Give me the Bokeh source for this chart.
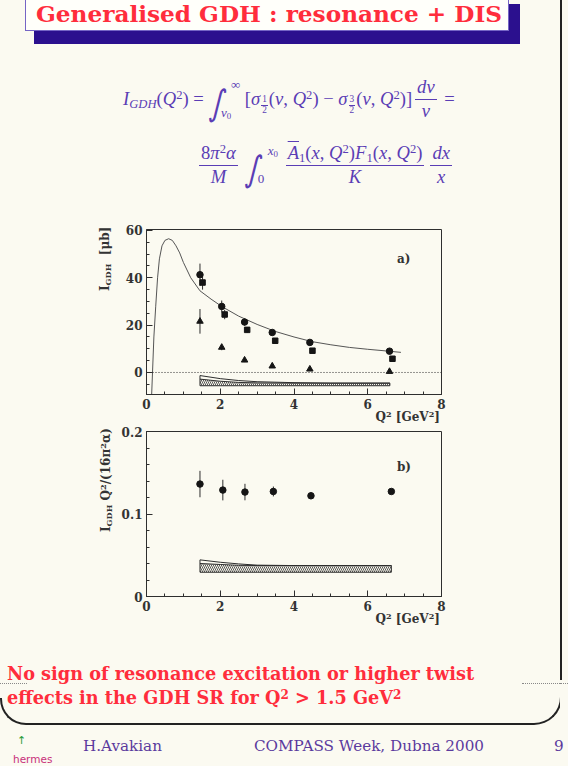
import math
from bokeh.plotting import figure
from bokeh.models import Div, Label, Span, Range1d, FixedTicker, CustomJSTickFormatter
from bokeh.layouts import column, row
from bokeh.embed import file_html
from bokeh.resources import INLINE

# ---------------- data ----------------
x_ticks = [0, 2, 4, 6, 8]
x_minor_ticks = [0, 0.5, 1, 1.5, 2, 2.5, 3, 3.5, 4, 4.5, 5, 5.5, 6, 6.5, 7, 7.5, 8]
a_y_ticks = [0, 20, 40, 60]
a_y_minor = [-5, 0, 5, 10, 15, 20, 25, 30, 35, 40, 45, 50, 55, 60]
b_y_ticks = [0, 0.1, 0.2]
b_y_minor = [0, 0.02, 0.04, 0.06, 0.08, 0.1, 0.12, 0.14, 0.16, 0.18, 0.2]

# panel a) : I_GDH [mub]
q2_circ = [1.45, 2.04, 2.66, 3.41, 4.43, 6.59]
gdh_circ = [41.3, 27.9, 21.3, 16.9, 12.7, 9.0]
gdh_circ_err = [4.7, 2.5, 1.5, 1.0, 0.8, 0.6]
q2_sq = [1.52, 2.12, 2.73, 3.49, 4.50, 6.67]
gdh_sq = [38.0, 24.5, 18.0, 13.4, 9.2, 5.8]
gdh_sq_err = [3.0, 2.0, 1.2, 0.8, 0.6, 0.5]
q2_tri = [1.45, 2.04, 2.66, 3.41, 4.43, 6.59]
gdh_tri = [21.6, 10.6, 5.2, 2.7, 1.4, 0.4]
gdh_tri_err = [5.2, 1.2, 0.8, 0.6, 0.5, 0.5]
curve_q2 = [0.14, 0.2, 0.25, 0.3, 0.35, 0.42, 0.5, 0.6, 0.7, 0.8, 0.9, 1.0, 1.2, 1.45,
            1.75, 2.05, 2.5, 3.0, 3.5, 4.0, 4.5, 5.0, 5.5, 6.0, 6.5, 6.9]
curve_gdh = [-9.3, 15.0, 28.0, 40.0, 48.0, 53.5, 55.8, 56.5, 55.8, 53.5, 50.5, 46.5, 40.0, 34.5,
             31.0, 27.8, 23.8, 20.3, 17.3, 15.0, 13.0, 11.7, 10.6, 9.8, 9.1, 8.5]
syst_a_q2 = [1.45, 2.0, 2.5, 3.0, 4.0, 5.0, 6.6]
syst_a_total = [-1.3, -2.6, -3.4, -3.9, -4.3, -4.5, -4.5]
syst_a_hatch = [-2.8, -3.7, -4.2, -4.4, -4.5, -4.5, -4.5]
syst_a_base = [-5.6, -5.6, -5.6, -5.6, -5.6, -5.6, -5.6]

# panel b) : I_GDH Q^2/(16 pi^2 alpha)
q2_b = [1.45, 2.07, 2.67, 3.44, 4.46, 6.64]
gdh_b = [0.1363, 0.129, 0.1266, 0.1273, 0.1221, 0.1273]
gdh_b_err = [0.016, 0.0125, 0.010, 0.006, 0.004, 0.003]
syst_b_q2 = [1.45, 2.0, 2.5, 3.0, 4.0, 5.0, 6.64]
syst_b_total = [0.0444, 0.0415, 0.0395, 0.038, 0.0375, 0.0375, 0.0375]
syst_b_hatch = [0.0400, 0.0388, 0.0378, 0.0375, 0.0375, 0.0375, 0.0375]
syst_b_base = [0.0294, 0.0294, 0.0294, 0.0294, 0.0294, 0.0294, 0.0294]

# ---------------- style ----------------
BG = "#fbfaf1"
AX = "#2e2e2e"
FORM = "#5a3db5"
RED = "#ff2d3c"
NAVY = "#2b108e"
FOOT = "#5b3a9e"
SERIF = "DejaVu Serif"
LINE = "#222222"


def panel(width, height, left, top, bottom, y_start, y_end, yticks, yminor):
    p = figure(width=width, height=height, x_range=Range1d(0, 8), y_range=Range1d(y_start, y_end),
               output_backend="svg", toolbar_location=None,
               min_border_left=left, min_border_right=width - left - 295, min_border_top=top,
               min_border_bottom=bottom, background_fill_color=BG, border_fill_color=BG,
               outline_line_color=AX)
    p.grid.visible = False
    for ax, t, m in ((p.xaxis[0], x_ticks, x_minor_ticks), (p.yaxis[0], yticks, yminor)):
        ax.ticker = FixedTicker(ticks=t, minor_ticks=m)
        ax.major_tick_in = 6
        ax.major_tick_out = 0
        ax.minor_tick_in = 3
        ax.minor_tick_out = 0
        ax.axis_line_color = AX
        ax.major_tick_line_color = AX
        ax.minor_tick_line_color = AX
        ax.major_label_text_font = SERIF
        ax.major_label_text_font_style = "bold"
        ax.major_label_text_font_size = "12px"
        ax.major_label_text_color = "#333333"
        ax.major_label_standoff = 4
    p.yaxis[0].formatter = CustomJSTickFormatter(
        code="return tick === 0 ? '0' : (Math.abs(tick) < 1 ? tick.toFixed(1) : tick.toFixed(0));")
    return p


def errbars(p, xs, ys, es):
    p.segment(x0=xs, x1=xs, y0=[y - e for y, e in zip(ys, es)], y1=[y + e for y, e in zip(ys, es)],
              line_color=AX, line_width=1)


def band(p, xs, total, hatch, base):
    p.varea(x=xs, y1=base, y2=hatch, fill_color=BG, hatch_pattern="\\", hatch_color=AX,
            hatch_scale=4, hatch_weight=0.8)
    p.line(xs, hatch, line_color=AX, line_width=1)
    p.patch(xs + xs[::-1], total + base[::-1], fill_color=None, line_color=AX, line_width=1)


def lab(p, x, y, text, size):
    p.add_layout(Label(x=x, y=y, text=text, text_align="left", text_baseline="alphabetic",
                       text_font=SERIF, text_font_style="bold", text_font_size=f"{size}px",
                       text_color="#333333"))


# ---------------- html helpers ----------------
def put(ox, oy, x, base, html, fs, fam="Liberation Serif", weight="normal", style="normal",
        color=FORM, right=None, extra=""):
    L = 60
    k = 0.346 if fam.startswith("DejaVu") else 0.3375
    top = base - oy - L / 2 - k * fs
    pos = f"left:{x - ox:.1f}px;" if right is None else f"right:{right:.1f}px;"
    return (f'<div style="position:absolute;{pos}top:{top:.1f}px;font-family:\'{fam}\';'
            f'font-size:{fs}px;line-height:{L}px;font-weight:{weight};font-style:{style};'
            f'color:{color};white-space:nowrap;{extra}">{html}</div>')


def rot(ox, oy, xb, ys, html, fs):
    b = 30 + 0.346 * fs
    return (f'<div style="position:absolute;left:{xb - ox - b:.1f}px;top:{ys - oy:.1f}px;'
            f'transform-origin:0 0;transform:rotate(-90deg);font-family:\'{SERIF}\';font-size:{fs}px;'
            f'line-height:60px;font-weight:bold;color:#333333;white-space:nowrap">{html}</div>')


def sup(t):
    return f'<span style="font-size:0.68em;line-height:0;vertical-align:0.45em;font-style:normal">{t}</span>'


def sub(t):
    return f'<span style="font-size:0.68em;line-height:0;vertical-align:-0.25em">{t}</span>'


def subfrac(a, b):
    return ('<span style="display:inline-block;font-size:0.5em;line-height:1;vertical-align:-0.85em;'
            'text-align:center;font-style:normal;margin:0 1px">'
            f'<span style="display:block;border-bottom:1px solid currentColor;padding:0 1px">{a}</span>'
            f'<span style="display:block">{b}</span></span>')


def frac(num, den, fs, axis=5.2, pad=2):
    d = pad + 0.8375 * fs - axis
    return (f'<span style="display:inline-block;line-height:1;vertical-align:-{d:.1f}px;text-align:center;margin:0 3px">'
            f'<span style="display:block;border-bottom:1px solid currentColor;padding:0 2px {pad}px">{num}</span>'
            f'<span style="display:block;padding-top:{pad}px">{den}</span></span>')


def integral(lo, hi):
    glyph = ('<span style="font-family:\'DejaVu Sans\';font-style:normal;font-size:1.9em;line-height:0;'
             'vertical-align:-0.28em;display:inline-block;transform:skewX(-12deg) scaleX(0.8)">∫</span>')
    lim = ('<span style="display:inline-block;line-height:1;font-size:0.7em;vertical-align:-0.95em">'
           f'<span style="display:block;padding-left:4px">{hi}</span>'
           f'<span style="display:block;margin-top:1.15em;margin-left:-6px">{lo}</span></span>')
    return glyph + lim


def wrap(w, h, parts):
    return (f'<div style="position:relative;width:{w}px;height:{h}px;background:{BG}">'
            + "".join(parts) + "</div>")


def i_(t):
    return f"<i>{t}</i>"


# ---------------- header (title + formula) ----------------
FS = 18.6
line1 = (i_("I") + sub(i_("GDH")) + "(" + i_("Q") + sup("2") + ") = "
         + integral(i_("ν") + sub("0"), "∞") + "&nbsp;["
         + i_("σ") + subfrac("1", "2") + "(" + i_("ν") + ", " + i_("Q") + sup("2") + ") − "
         + i_("σ") + subfrac("3", "2") + "(" + i_("ν") + ", " + i_("Q") + sup("2") + ")]"
         + frac(i_("dν"), i_("ν"), FS) + " =")
line2 = (frac("8" + i_("π") + sup("2") + i_("α"), i_("M"), FS) + " "
         + integral("0", i_("x") + sub("0")) + "&nbsp;"
         + frac('<span style="text-decoration:overline">' + i_("A") + '</span>' + sub("1") + "("
                + i_("x") + ", " + i_("Q") + sup("2") + ")" + i_("F") + sub("1") + "(" + i_("x")
                + ", " + i_("Q") + sup("2") + ")", i_("K"), FS)
         + frac(i_("dx"), i_("x"), FS))

hdr = [
    f'<div style="position:absolute;left:34px;top:4px;width:486px;height:39.5px;background:{NAVY}"></div>',
    '<div style="position:absolute;left:25px;top:-3px;width:484px;height:34px;background:#fffffa;border:1px solid #7565c5"></div>',
    put(0, 0, 36, 21.7, "Generalised GDH : resonance + DIS", 23.2, fam="DejaVu Serif", weight="bold", color=RED),
    put(0, 0, 123, 105, line1, FS),
    put(0, 0, 0, 171, line2, FS, right=560 - 455),
]
header = Div(text=wrap(560, 217, hdr), width=560, height=217, margin=0)

# ---------------- panels ----------------
pa = panel(442, 196, 28, 12, 19, -9.3, 60.4, a_y_ticks, a_y_minor)
pa.add_layout(Span(location=0, dimension="width", line_color=AX, line_dash="1 2", line_width=1))
band(pa, syst_a_q2, syst_a_total, syst_a_hatch, syst_a_base)
pa.line(curve_q2, curve_gdh, line_color="#555555", line_width=1)
errbars(pa, q2_circ, gdh_circ, gdh_circ_err)
errbars(pa, q2_sq, gdh_sq, gdh_sq_err)
errbars(pa, q2_tri, gdh_tri, gdh_tri_err)
pa.scatter(q2_circ, gdh_circ, marker="circle", size=6.5, color="#151515")
pa.scatter(q2_sq, gdh_sq, marker="square", size=5.5, color="#151515")
pa.scatter(q2_tri, gdh_tri, marker="triangle", size=6.5, color="#151515")
lab(pa, 6.79, 48.1, "a)", 12)

pb = panel(442, 188, 28, 5, 18, 0, 0.2, b_y_ticks, b_y_minor)
band(pb, syst_b_q2, syst_b_total, syst_b_hatch, syst_b_base)
errbars(pb, q2_b, gdh_b, gdh_b_err)
pb.scatter(q2_b, gdh_b, marker="circle", size=6.5, color="#151515")
lab(pb, 6.79, 0.1564, "b)", 12)

ya_label = "I" + sub("GDH") + "&nbsp;&nbsp;[μb]"
yb_label = "I" + sub("GDH") + "&nbsp;Q" + sup("2") + "/(16π" + sup("2") + "α)"
x_label = "Q" + sup("2") + " [GeV" + sup("2") + "]"

ya_div = Div(text=wrap(118, 196, [rot(0, 217, 109.5, 290.7, ya_label, 12)]), width=118, height=196, margin=0)
yb_div = Div(text=wrap(118, 188, [rot(0, 426, 110, 531.7, yb_label, 12)]), width=118, height=188, margin=0)
xa_div = Div(text=wrap(560, 13, [put(0, 413, 0, 421.5, x_label, 12, fam="DejaVu Serif", weight="bold",
                                     color="#333333", right=560 - 440)]), width=560, height=13, margin=0)
xb_div = Div(text=wrap(560, 22, [put(0, 614, 0, 623, x_label, 12, fam="DejaVu Serif", weight="bold",
                                     color="#333333", right=560 - 440)]), width=560, height=22, margin=0)

# ---------------- conclusion text + frame ----------------
red_line1 = "No sign of resonance excitation or higher twist"
red_line2 = "effects in the GDH SR for Q" + sup("2") + " &gt; 1.5 GeV" + sup("2")
txt = [
    put(0, 636, 7, 680.5, red_line1, 17.7, fam="DejaVu Serif", weight="bold", color=RED),
    put(0, 636, 7, 704, red_line2, 17.7, fam="DejaVu Serif", weight="bold", color=RED),
    '<div style="position:absolute;left:0px;top:47px;width:27px;border-top:1px dotted #888"></div>',
    '<div style="position:absolute;left:522px;top:47px;width:38px;border-top:1px dotted #888"></div>',
    f'<div style="position:absolute;left:40px;top:40px;width:522px;height:49px;box-sizing:border-box;'
    f'border-right:2px solid {LINE};border-bottom:2px solid {LINE};border-bottom-right-radius:28px"></div>',
    f'<div style="position:absolute;left:0px;top:62px;width:60px;height:27px;box-sizing:border-box;'
    f'border-left:2px solid {LINE};border-bottom:2px solid {LINE};border-bottom-left-radius:26px"></div>',
]
text_div = Div(text=wrap(560, 90, txt), width=560, height=90, margin=0)

vline = Div(text=wrap(8, 726, [f'<div style="position:absolute;left:0px;top:0px;width:2px;height:680px;background:{LINE}"></div>',
                               '<div style="position:absolute;left:0px;top:683px;width:8px;border-top:1px dotted #888"></div>']),
            width=8, height=726, margin=0)

# ---------------- footer ----------------
ft = [
    put(0, 726, 83, 751.5, "H.Avakian", 15.2, fam="DejaVu Serif", color=FOOT),
    put(0, 726, 254, 751.5, "COMPASS Week, Dubna 2000", 15.2, fam="DejaVu Serif", color=FOOT),
    put(0, 726, 554, 751.5, "9", 15.2, fam="DejaVu Serif", color=FOOT),
    put(0, 726, 17, 745, "↑", 11, fam="DejaVu Sans", color="#2a9a3a"),
    put(0, 726, 13, 763, "hermes", 10.5, fam="DejaVu Sans", color="#c8307a"),
]
footer = Div(text=wrap(568, 40, ft), width=568, height=40, margin=0)

main = column(header, row(ya_div, pa), xa_div, row(yb_div, pb), xb_div, text_div, spacing=0,
              styles={"background": BG})
page = column(row(main, vline, spacing=0, styles={"background": BG}), footer, spacing=0,
              styles={"background": BG})

open("out.html", "w").write(file_html(page, INLINE))
